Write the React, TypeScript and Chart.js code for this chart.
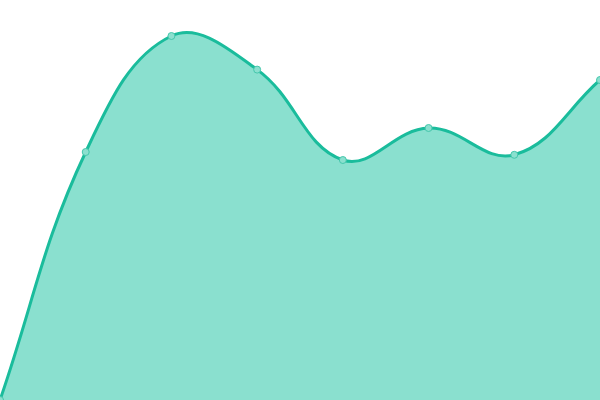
import { useEffect, useRef } from "react"
import { Chart, type ChartConfiguration, registerables } from "chart.js"

Chart.register(...registerables)

const labels = ["1", "2", "3", "4", "5", "6", "7", "8"]
const values = [0, 62, 91, 82.6, 60, 68, 61.3, 80]

export default function App() {
  const chartRef = useRef<HTMLCanvasElement>(null)
  const chartInstance = useRef<Chart | null>(null)

  useEffect(() => {
    document.body.style.margin = "0"
    if (!chartRef.current) return
    if (chartInstance.current) chartInstance.current.destroy()

    const ctx = chartRef.current.getContext("2d")
    if (!ctx) return

    const config: ChartConfiguration = {
      type: "line",
      data: {
        labels,
        datasets: [
          {
            data: values,
            borderColor: "#1abc9c",
            backgroundColor: "#8ae0cf",
            fill: true,
            tension: 0.4,
            borderWidth: 3,
            pointRadius: 3.5,
            pointBorderWidth: 1,
            pointBackgroundColor: "#8be0cf",
            pointBorderColor: "#45c7ac",
          },
        ],
      },
      options: {
        animation: false,
        responsive: true,
        maintainAspectRatio: false,
        layout: { padding: 0, autoPadding: false },
        scales: {
          x: { display: false },
          y: { display: false, min: 0, max: 100 },
        },
        plugins: {
          legend: { display: false },
          tooltip: { enabled: false },
        },
      },
    }

    chartInstance.current = new Chart(ctx, config)

    return () => {
      if (chartInstance.current) {
        chartInstance.current.destroy()
        chartInstance.current = null
      }
    }
  }, [])

  return (
    <div style={{ position: "relative", width: 600, height: 400 }}>
      <canvas ref={chartRef} />
    </div>
  )
}
